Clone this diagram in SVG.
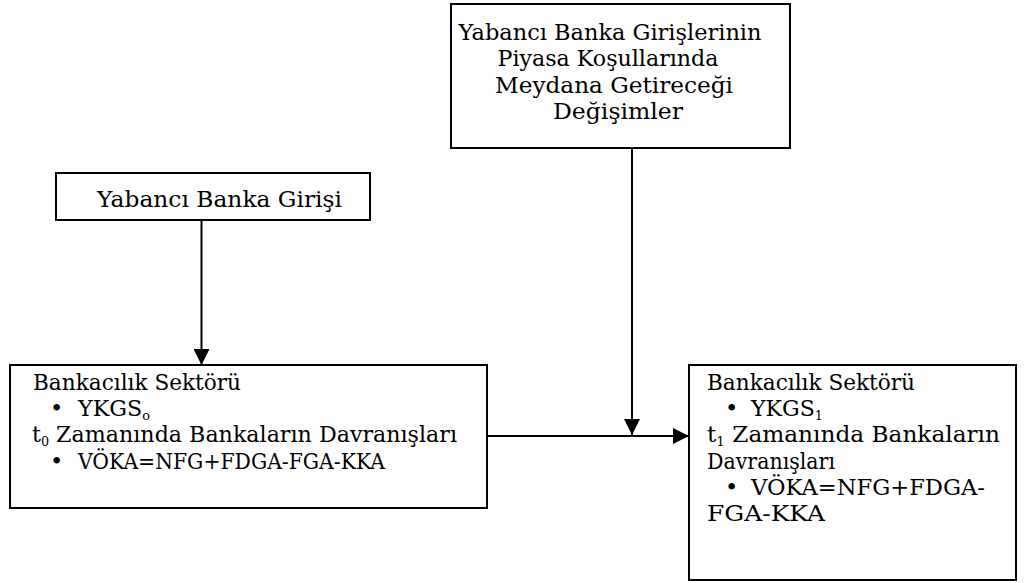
<svg xmlns="http://www.w3.org/2000/svg" width="1032" height="583" viewBox="0 0 1032 583">
<defs>
<style>
.box{fill:#fff;stroke:#000;stroke-width:2}
.t{font-family:"DejaVu Serif","Liberation Serif",serif;font-size:22.5px;fill:#000}
.c{text-anchor:middle}
.sub{font-size:13px}
.edge{stroke:#000;stroke-width:2;fill:none}
</style>
<marker id="ah" viewBox="0 0 16 16" refX="16" refY="8" markerWidth="16" markerHeight="16" markerUnits="userSpaceOnUse" orient="auto">
<path d="M0,0 L16,8 L0,16 Z" fill="#000"/>
</marker>
</defs>
<rect width="1032" height="583" fill="#fff"/>
<g id="connectors">
<line class="edge" x1="201.5" y1="220" x2="201.5" y2="365" marker-end="url(#ah)"/>
<line class="edge" x1="632" y1="148" x2="632" y2="435" marker-end="url(#ah)"/>
<line class="edge" x1="487" y1="436" x2="689" y2="436" marker-end="url(#ah)"/>
</g>
<g id="n-top">
<rect class="box" x="451" y="4" width="339" height="144"/>
<text class="t c" x="610" y="39.5" textLength="303" lengthAdjust="spacingAndGlyphs">Yabancı Banka Girişlerinin</text>
<text class="t c" x="608" y="66" textLength="221" lengthAdjust="spacingAndGlyphs">Piyasa Koşullarında</text>
<text class="t c" x="614" y="92.5" textLength="238" lengthAdjust="spacingAndGlyphs">Meydana Getireceği</text>
<text class="t c" x="618" y="119" textLength="130" lengthAdjust="spacingAndGlyphs">Değişimler</text>
</g>
<g id="n-giris">
<rect class="box" x="56" y="173" width="314" height="47"/>
<text class="t c" x="219.5" y="207" textLength="245" lengthAdjust="spacingAndGlyphs">Yabancı Banka Girişi</text>
</g>
<g id="n-t0">
<rect class="box" x="10" y="365" width="477" height="143"/>
<text class="t" x="33" y="390" textLength="208" lengthAdjust="spacingAndGlyphs">Bankacılık Sektörü</text>
<text class="t" x="50" y="416">•</text>
<text class="t" x="78" y="416" textLength="72" lengthAdjust="spacingAndGlyphs">YKGS<tspan class="sub" dy="4">o</tspan></text>
<text class="t" x="32" y="442" textLength="425" lengthAdjust="spacingAndGlyphs">t<tspan class="sub" dy="4">0</tspan><tspan dy="-4"> Zamanında Bankaların Davranışları</tspan></text>
<text class="t" x="50" y="469">•</text>
<text class="t" x="78" y="469" textLength="307" lengthAdjust="spacingAndGlyphs">VÖKA=NFG+FDGA-FGA-KKA</text>
</g>
<g id="n-t1">
<rect class="box" x="689" y="365" width="327" height="215"/>
<text class="t" x="707" y="390" textLength="208" lengthAdjust="spacingAndGlyphs">Bankacılık Sektörü</text>
<text class="t" x="725" y="416">•</text>
<text class="t" x="751" y="416" textLength="72" lengthAdjust="spacingAndGlyphs">YKGS<tspan class="sub" dy="4">1</tspan></text>
<text class="t" x="707" y="442" textLength="293" lengthAdjust="spacingAndGlyphs">t<tspan class="sub" dy="4">1</tspan><tspan dy="-4"> Zamanında Bankaların</tspan></text>
<text class="t" x="707" y="469" textLength="128" lengthAdjust="spacingAndGlyphs">Davranışları</text>
<text class="t" x="725" y="495">•</text>
<text class="t" x="751" y="495" textLength="234" lengthAdjust="spacingAndGlyphs">VÖKA=NFG+FDGA-</text>
<text class="t" x="707" y="521" textLength="118" lengthAdjust="spacingAndGlyphs">FGA-KKA</text>
</g>
</svg>
